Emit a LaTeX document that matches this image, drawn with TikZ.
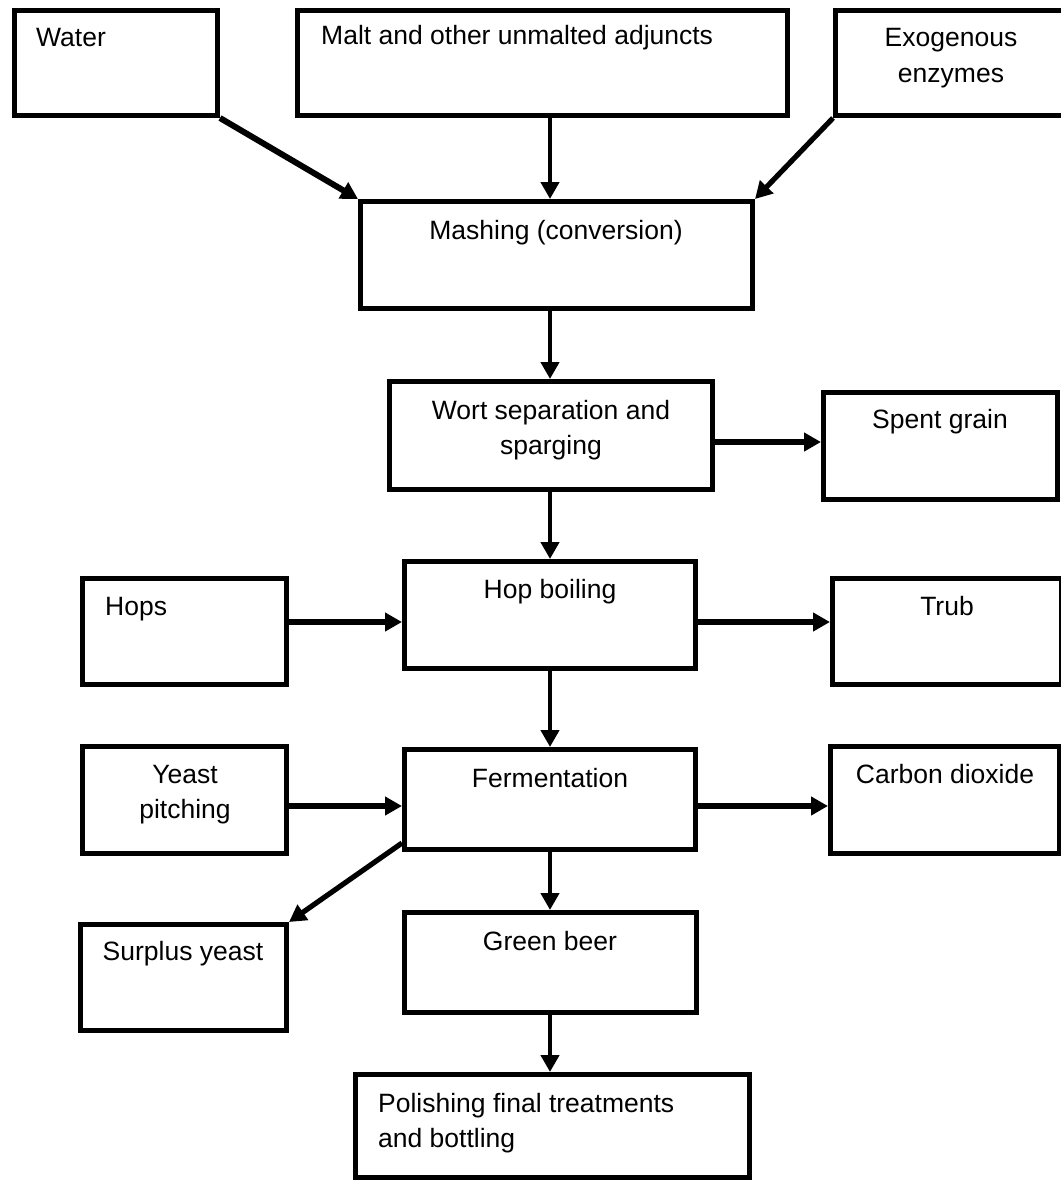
\documentclass[tikz,border=0pt]{standalone}
\usepackage{fontspec}
\setmainfont{Liberation Sans}
\usetikzlibrary{arrows.meta}
\tikzset{
  box/.style={draw,line width=5.3pt,inner sep=0pt,outer sep=2.65pt},
  lbl/.style={font=\fontsize{26.5}{35.5}\selectfont,inner sep=0pt,align=center},
  arr/.style={line width=4.6pt,-{Triangle[length=17pt,width=18pt]}},
  harr/.style={arr,line width=6pt}
}
\begin{document}
\begin{tikzpicture}[x=1pt,y=-1pt]
\useasboundingbox (0,0) rectangle (1060,1180);
% ---- boxes: name/left/top/right/bottom (outer edges) ----
\foreach \n/\l/\t/\r/\b in {
  water/12/8/220/118, malt/295/8/790/118, exo/833/8/1070/118,
  mash/358/199/755/311,
  wort/387/379/715/492, spent/821/390/1060/502,
  hops/80/576/289/687, hopboil/402/559/698/671, trub/830/576/1064/687,
  yeast/80/744/289/856, ferm/402/747/698/852, co2/828/744/1062/856,
  surplus/78/922/289/1033, green/402/910/699/1015,
  polish/353/1072/752/1180%
}{
  \node[box,minimum width={(\r-\l-5.3)*1pt},minimum height={(\b-\t-5.3)*1pt}]
    (\n) at ({(\l+\r)/2},{(\t+\b)/2}) {};
}
% ---- one-line labels ----
\foreach \n/\x/\y/\a/\s in {
  water/36/47/base west/Water,
  malt/321/45/base west/Malt and other unmalted adjuncts,
  mash/556/239/base/Mashing (conversion),
  spent/940/428/base/Spent grain,
  hops/105/615/base west/Hops,
  hopboil/550/598/base/Hop boiling,
  trub/947/615/base/Trub,
  ferm/550/787/base/Fermentation,
  co2/945/783/base/Carbon dioxide,
  surplus/183/960/base/Surplus yeast,
  green/550/950/base/Green beer%
}{
  \node[lbl,anchor=\a] (\n-t) at (\x,\y) {\s};
}
% ---- two-line labels (base = last line) ----
\node[lbl,anchor=base] (exo-t) at (951,82.5) {Exogenous\\enzymes};
\node[lbl,anchor=base] (wort-t) at (551,454.5) {Wort separation and\\sparging};
\node[lbl,anchor=base] (yeast-t) at (185,818.5) {Yeast\\pitching};
\node[lbl,anchor=base west,align=left] (polish-t) at (378,1147.5)
  {Polishing final treatments\\and bottling};
% ---- arrows ----
\coordinate (spine) at (550,0);
\coordinate (row1) at (0,442);
\coordinate (row2) at (0,622);
\coordinate (row3) at (0,806);
\draw[harr] (water.south east) -- (mash.north west);
\draw[arr] (malt.south -| spine) -- (mash.north -| spine);
\draw[arr,line width=5.2pt] (exo.south west) -- (mash.north east);
\foreach \a/\b in {mash/wort, wort/hopboil, hopboil/ferm, ferm/green, green/polish}
  \draw[arr] (\a.south -| spine) -- (\b.north -| spine);
\draw[harr] (wort.east |- row1) -- (spent.west |- row1);
\draw[harr] (hops.east |- row2) -- (hopboil.west |- row2);
\draw[harr] (hopboil.east |- row2) -- (trub.west |- row2);
\draw[harr] (yeast.east |- row3) -- (ferm.west |- row3);
\draw[harr] (ferm.east |- row3) -- (co2.west |- row3);
\draw[arr,line width=5.2pt] ([yshift=9pt]ferm.south west) -- (surplus.north east);
\end{tikzpicture}
\end{document}
